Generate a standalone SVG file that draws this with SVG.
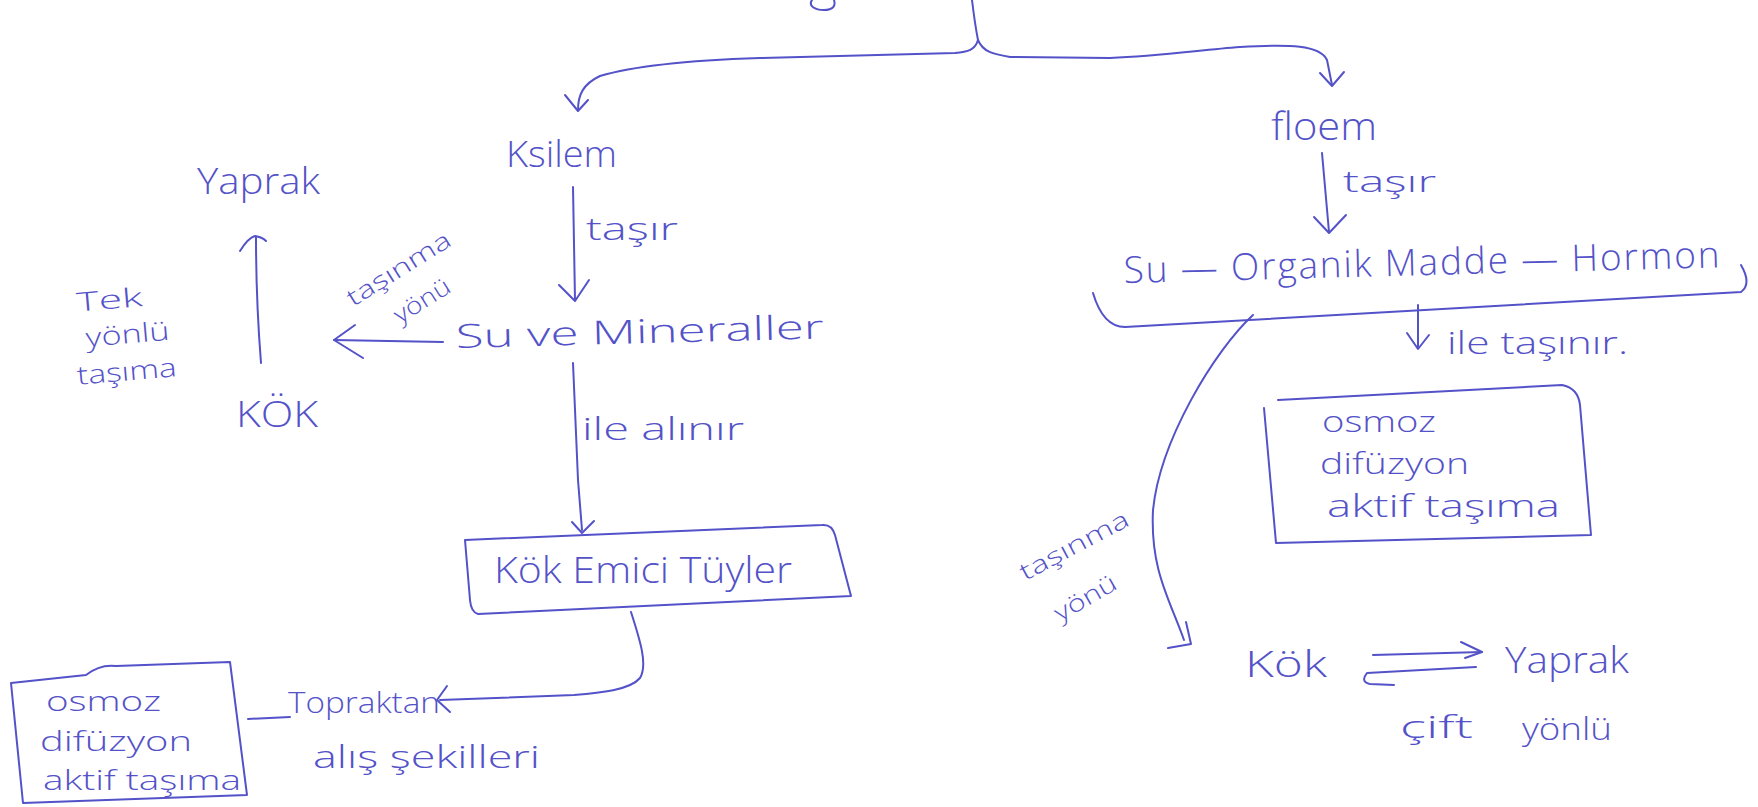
<svg xmlns="http://www.w3.org/2000/svg" width="1758" height="807" viewBox="0 0 1758 807">
  <style>
    .ink { fill: none; stroke: #5452c8; stroke-width: 2; stroke-linecap: round; stroke-linejoin: round; }
    .t { fill: #5452c8; font-family: "Open Sans", "Liberation Sans", sans-serif; font-weight: 300; }
  </style>
  <rect width="1758" height="807" fill="#ffffff"/>

  <!-- connectors -->
  <g id="connectors" class="ink">
    <!-- tail of the title letter -->
    <path d="M812,0 C808,6 815,10 824,10 C833,10 836,6 834,0"/>
    <!-- top brace -->
    <path d="M972,0 Q975,25 978,40"/>
    <path d="M978,40 C975,50 968,52 955,53 L760,58 C700,60 640,64 600,76 C583,84 578,95 578,110"/>
    <path d="M565,95 L578,111 L588,100"/>
    <path d="M978,40 C983,52 993,54 1010,57 L1110,58 C1160,56 1200,50 1240,47 C1290,44 1320,45 1327,60 L1332,85"/>
    <path d="M1320,73 L1332,86 L1344,72"/>

    <!-- Ksilem -> Su ve Mineraller -->
    <path d="M573,187 L575,300"/>
    <path d="M559,285 L575,301 L589,280"/>
    <!-- Su ve Mineraller -> Kok -->
    <path d="M443,342 L334,340"/>
    <path d="M355,325 L334,340 L363,358"/>
    <!-- Kok -> Yaprak -->
    <path d="M261,363 Q256,300 256,237"/>
    <path d="M240,251 Q248,238 255,236 Q262,237 266,241"/>
    <!-- Su ve Mineraller -> Kok Emici Tuyler -->
    <path d="M573,363 L578,480 L582,530"/>
    <path d="M572,522 L582,533 L594,521"/>
    <!-- Kok Emici Tuyler -> Topraktan -->
    <path d="M631,612 C640,640 648,665 640,678 C630,690 600,693 574,695 L440,700"/>
    <path d="M447,686 L437,700 L450,712"/>
    <!-- left box dash -->
    <path d="M248,719 L290,717"/>

    <!-- floem -> list -->
    <path d="M1322,153 L1329,232"/>
    <path d="M1314,217 L1329,233 L1346,215"/>
    <!-- brace under the list -->
    <path d="M1093,293 Q1103,327 1125,327 L1741,292 Q1752,284 1741,265"/>
    <!-- list -> osmoz box -->
    <path d="M1418,305 L1418,348"/>
    <path d="M1407,333 L1418,349 L1429,335"/>
    <!-- list -> Kok (tasinma yonu) -->
    <path d="M1253,315 C1215,350 1160,440 1153,510 C1150,570 1170,600 1184,640"/>
    <path d="M1186,622 L1191,644 L1168,648"/>
    <!-- Kok <-> Yaprak -->
    <path d="M1373,655 L1482,652"/>
    <path d="M1461,642 L1482,652 L1465,658"/>
    <path d="M1476,667 L1367,673 Q1360,682 1370,684 L1394,685"/>
  </g>

  <!-- left branch -->
  <g id="ksilem">
    <text class="t" x="506" y="167" font-size="36" textLength="111" lengthAdjust="spacingAndGlyphs">Ksilem</text>
    <text class="t" x="586" y="240" font-size="32" textLength="92" lengthAdjust="spacingAndGlyphs">taşır</text>
  </g>
  <g id="su-ve-mineraller">
    <text class="t" x="456" y="348" font-size="33" textLength="368" lengthAdjust="spacingAndGlyphs" transform="rotate(-1.5 456 348)">Su ve Mineraller</text>
  </g>
  <g id="tasinma-yonu-sol">
    <text class="t" x="353" y="307" font-size="24" textLength="118" lengthAdjust="spacingAndGlyphs" transform="rotate(-32 353 307)">taşınma</text>
    <text class="t" x="400" y="324" font-size="24" textLength="62" lengthAdjust="spacingAndGlyphs" transform="rotate(-32 400 324)">yönü</text>
  </g>
  <g id="yaprak-sol">
    <text class="t" x="197" y="194" font-size="36" textLength="123" lengthAdjust="spacingAndGlyphs">Yaprak</text>
  </g>
  <g id="kok-sol">
    <text class="t" x="236" y="427" font-size="36" textLength="82" lengthAdjust="spacingAndGlyphs">KÖK</text>
  </g>
  <g id="tek-yonlu">
    <g transform="rotate(-5 120 340)">
      <text class="t" x="80" y="308" font-size="26" textLength="66" lengthAdjust="spacingAndGlyphs">Tek</text>
      <text class="t" x="86" y="344" font-size="26" textLength="84" lengthAdjust="spacingAndGlyphs">yönlü</text>
      <text class="t" x="74" y="381" font-size="26" textLength="100" lengthAdjust="spacingAndGlyphs">taşıma</text>
    </g>
  </g>
  <g id="ile-alinir">
    <text class="t" x="582" y="440" font-size="32" textLength="162" lengthAdjust="spacingAndGlyphs">ile alınır</text>
  </g>
  <g id="kok-emici-tuyler">
    <path class="ink" d="M465,540 L822,525 Q832,524 835,535 L851,596 L478,614 Q471,612 470,600 Z"/>
    <text class="t" x="494" y="583" font-size="36" textLength="298" lengthAdjust="spacingAndGlyphs">Kök Emici Tüyler</text>
  </g>
  <g id="topraktan">
    <text class="t" x="288" y="713" font-size="30" textLength="152" lengthAdjust="spacingAndGlyphs">Topraktan</text>
    <text class="t" x="313" y="768" font-size="32" textLength="227" lengthAdjust="spacingAndGlyphs">alış şekilleri</text>
  </g>
  <g id="osmoz-sol">
    <path class="ink" d="M11,683 L86,675 Q100,664 116,666 L230,662 L247,795 L23,803 Z"/>
    <text class="t" x="46" y="711" font-size="28" textLength="115" lengthAdjust="spacingAndGlyphs">osmoz</text>
    <text class="t" x="40" y="751" font-size="28" textLength="152" lengthAdjust="spacingAndGlyphs">difüzyon</text>
    <text class="t" x="43" y="790" font-size="28" textLength="198" lengthAdjust="spacingAndGlyphs">aktif taşıma</text>
  </g>

  <!-- right branch -->
  <g id="floem">
    <text class="t" x="1271" y="140" font-size="38" textLength="106" lengthAdjust="spacingAndGlyphs">floem</text>
    <text class="t" x="1343" y="192" font-size="30" textLength="93" lengthAdjust="spacingAndGlyphs">taşır</text>
  </g>
  <g id="tasinan-maddeler">
    <text class="t" x="1124" y="283" font-size="37" textLength="596" lengthAdjust="spacing" transform="rotate(-1.5 1124 283)">Su — Organik Madde — Hormon</text>
  </g>
  <g id="ile-tasinir">
    <text class="t" x="1447" y="354" font-size="32" textLength="181" lengthAdjust="spacingAndGlyphs">ile taşınır.</text>
  </g>
  <g id="osmoz-sag">
    <path class="ink" d="M1278,400 L1562,385 Q1578,388 1580,405 L1591,535 L1276,543 L1264,408"/>
    <text class="t" x="1322" y="432" font-size="29" textLength="114" lengthAdjust="spacingAndGlyphs">osmoz</text>
    <text class="t" x="1320" y="474" font-size="29" textLength="149" lengthAdjust="spacingAndGlyphs">difüzyon</text>
    <text class="t" x="1327" y="517" font-size="31" textLength="233" lengthAdjust="spacingAndGlyphs">aktif taşıma</text>
  </g>
  <g id="tasinma-yonu-sag">
    <text class="t" x="1025" y="581" font-size="24" textLength="120" lengthAdjust="spacingAndGlyphs" transform="rotate(-28 1025 581)">taşınma</text>
    <text class="t" x="1060" y="622" font-size="24" textLength="68" lengthAdjust="spacingAndGlyphs" transform="rotate(-30 1060 622)">yönü</text>
  </g>
  <g id="kok-yaprak-sag">
    <text class="t" x="1245" y="677" font-size="36" textLength="82" lengthAdjust="spacingAndGlyphs">Kök</text>
    <text class="t" x="1505" y="673" font-size="36" textLength="124" lengthAdjust="spacingAndGlyphs">Yaprak</text>
  </g>
  <g id="cift-yonlu">
    <text class="t" x="1400" y="738" font-size="32" textLength="73" lengthAdjust="spacingAndGlyphs">çift</text>
    <text class="t" x="1522" y="740" font-size="32" textLength="90" lengthAdjust="spacingAndGlyphs">yönlü</text>
  </g>
</svg>
